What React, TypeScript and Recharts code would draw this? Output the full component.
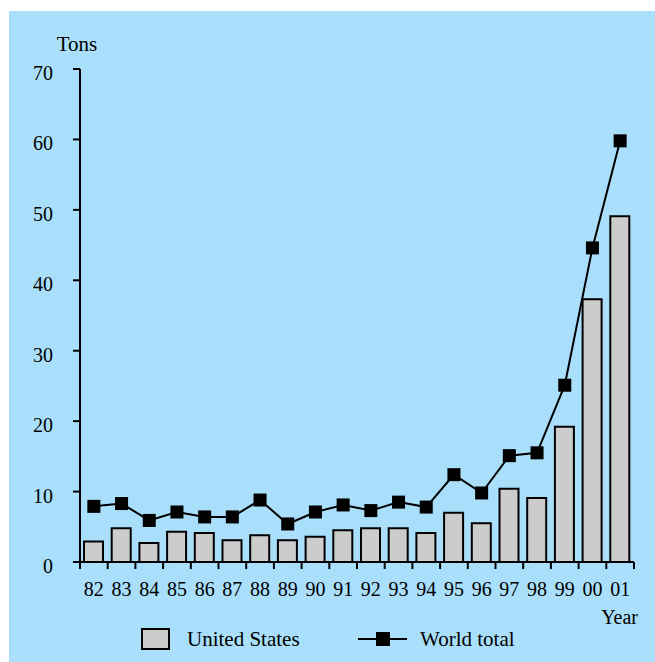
import React from 'react';
import { ComposedChart, Bar, Line, XAxis, YAxis, Legend } from 'recharts';

// values
const years = ['82', '83', '84', '85', '86', '87', '88', '89', '90', '91', '92', '93', '94', '95', '96', '97', '98', '99', '00', '01'];
const unitedStates = [2.9, 4.8, 2.7, 4.3, 4.1, 3.1, 3.8, 3.1, 3.6, 4.5, 4.8, 4.8, 4.1, 7.0, 5.5, 10.4, 9.1, 19.2, 37.3, 49.1];
const worldTotal = [7.9, 8.3, 5.9, 7.1, 6.4, 6.4, 8.8, 5.4, 7.1, 8.1, 7.3, 8.5, 7.8, 12.4, 9.8, 15.1, 15.5, 25.1, 44.6, 59.8];
const yTicks = [0, 10, 20, 30, 40, 50, 60, 70];

const data = years.map((year, i) => ({
  year,
  us: unitedStates[i],
  world: worldTotal[i],
}));

const W = 646;
const H = 651;
const margin = { top: 58, right: 21, left: 0, bottom: 60 };
const Y_AXIS_W = 71;
const band = (W - margin.right - Y_AXIS_W) / years.length;
const FONT = "'Liberation Serif', 'Times New Roman', Times, serif";
const BG = '#A9DFFA';
const tickStyle = { fontFamily: FONT, fontSize: 20 };
const labelStyle = { fontFamily: FONT, fontSize: 21 };

const XTick = (props: any) => {
  const { x, y, payload, index } = props;
  const left = x - band / 2;
  const right = x + band / 2;
  return (
    <g>
      <line x1={left} y1={y} x2={left} y2={y + 7} stroke="#000" strokeWidth={2} />
      {index === years.length - 1 && (
        <line x1={right} y1={y} x2={right} y2={y + 7} stroke="#000" strokeWidth={2} />
      )}
      <text x={x} y={y + 34} textAnchor="middle" style={tickStyle} fill="#000">
        {payload.value}
      </text>
    </g>
  );
};

const YTick = (props: any) => {
  const { x, y, payload } = props;
  return (
    <text x={x} y={y + 4} dy="0.35em" textAnchor="end" style={tickStyle} fill="#000">
      {payload.value}
    </text>
  );
};

const LegendContent = () => (
  <svg width={W} height={46} style={{ display: 'block' }}>
    <rect x={133} y={3} width={27} height={20} fill="#CCCCCC" stroke="#000" strokeWidth={2} />
    <text x={178} y={20} style={labelStyle} fill="#000">United States</text>
    <line x1={349} y1={13} x2={398} y2={13} stroke="#000" strokeWidth={2} />
    <rect x={367} y={6} width={14} height={14} fill="#000" />
    <text x={411} y={20} style={labelStyle} fill="#000">World total</text>
  </svg>
);

const SquareDot = (props: any) => {
  const { cx, cy, index } = props;
  if (cx == null || cy == null) return null;
  return <rect key={`dot-${index}`} x={cx - 6.5} y={cy - 6.5} width={13} height={13} fill="#000" />;
};

export default function App() {
  return (
    <div style={{ position: 'absolute', left: 9, top: 11, width: W, height: H, background: BG, fontFamily: FONT }}>
      <ComposedChart width={W} height={H} data={data} margin={margin} barSize={19}>
        <XAxis
          dataKey="year"
          height={40}
          axisLine={{ stroke: '#000', strokeWidth: 2 }}
          tickLine={false}
          tickSize={0}
          tickMargin={0}
          tick={<XTick />}
          interval={0}
          label={({ viewBox }: any) => (
            <text
              x={viewBox.x + viewBox.width + 4}
              y={viewBox.y + 62}
              textAnchor="end"
              style={tickStyle}
              fill="#000"
            >
              Year
            </text>
          )}
        />
        <YAxis
          width={Y_AXIS_W}
          domain={[0, 70]}
          ticks={yTicks}
          interval={0}
          axisLine={{ stroke: '#000', strokeWidth: 2 }}
          tickLine={{ stroke: '#000', strokeWidth: 2 }}
          tickSize={7}
          tickMargin={20}
          tick={<YTick />}
          label={({ viewBox }: any) => (
            <text
              x={viewBox.x + viewBox.width - 3}
              y={viewBox.y - 18}
              textAnchor="middle"
              style={labelStyle}
              fill="#000"
            >
              Tons
            </text>
          )}
        />
        <Legend
          layout="horizontal"
          verticalAlign="middle"
          align="center"
          content={<LegendContent />}
          wrapperStyle={{ position: 'absolute', left: 0, top: 615, width: W, height: 46 }}
        />
        <Bar dataKey="us" name="United States" fill="#CCCCCC" stroke="#000" strokeWidth={2} isAnimationActive={false} />
        <Line
          dataKey="world"
          name="World total"
          type="linear"
          stroke="#000"
          strokeWidth={2}
          dot={<SquareDot />}
          activeDot={false}
          isAnimationActive={false}
        />
      </ComposedChart>
    </div>
  );
}
